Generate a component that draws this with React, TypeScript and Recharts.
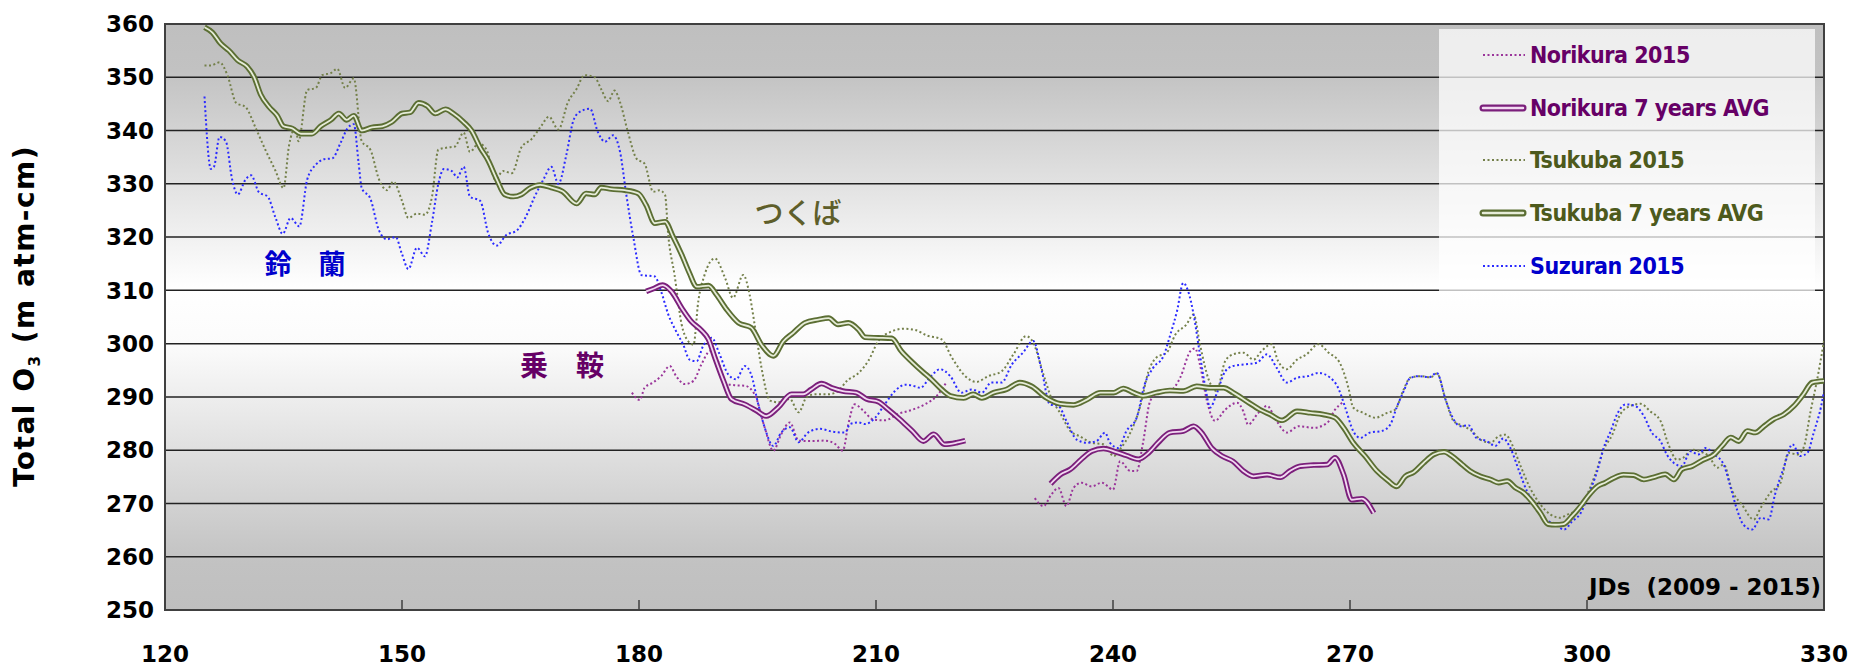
import React from 'react';
import { LineChart, Line, XAxis, YAxis, CartesianGrid, ReferenceArea, Legend } from 'recharts';

type Pt = [number, number | null];

// axis ticks
const xTicks = [120, 150, 180, 210, 240, 270, 300, 330];
const yTicks = [250, 260, 270, 280, 290, 300, 310, 320, 330, 340, 350, 360];

// [JD, total O3]
const norikura2015: Pt[] = [
  [179.1, 290.8], [180.1, 289.4], [180.7, 291.7], [181.8, 292.7], [182.8, 293.9], [183.9, 295.8],
  [184.7, 293.9], [185.8, 292.4], [186.9, 293], [187.9, 296.1], [189, 298.6], [190, 296.7],
  [191.1, 292.4], [192.1, 292.2], [193.4, 292.1], [194.7, 290.3], [195.9, 284.3], [197, 279.9],
  [198, 283], [199.1, 285.2], [200.2, 281.8], [201.8, 281.7], [203.5, 281.8], [204.8, 281.2],
  [205.8, 279.9], [206.5, 284.9], [207.3, 288.6], [208.4, 287.4], [209.6, 285.8], [211.1, 285.6],
  [212.8, 286.8], [214.6, 287.6], [216.2, 288.6], [217.7, 290.2], [218.9, 292.7], [220, null],
  [230.1, 271], [231.2, 269.5], [232.2, 271.7], [233.1, 272.9], [234.1, 269.5], [235, 272.9],
  [236, 273.9], [237.3, 273.2], [238.6, 273.9], [240, 272.6], [240.9, 277.9], [242.2, 276.1],
  [243, 276.1], [243.8, 281.4], [244.7, 289.2], [245.7, 290.8], [247.2, 291.1], [248.5, 293.6],
  [249.8, 298.6], [250.4, 299.1], [251, 296.1], [251.9, 289.2], [252.9, 285.5], [254.2, 287.6],
  [255.7, 288.9], [256.5, 287.3], [257.1, 284.8], [258.4, 287], [259.5, 288.3], [260.7, 285.5],
  [262, 283.3], [263.5, 284.5], [265.4, 284.2], [267.1, 285.1], [268.1, 287.6], [269, 288.9],
];

const norikuraAvg: Pt[] = [
  [180.9, 309.8], [181.8, 310.3], [183, 311], [184.1, 309.8], [185.4, 306.7], [186.6, 304.2],
  [187.9, 302.5], [188.8, 300.8], [189.6, 297.4], [190.7, 293], [191.7, 289.6], [193.4, 288.6],
  [194.9, 287.4], [196.1, 286.4], [197.6, 288], [199.3, 290.5], [200.8, 290.5], [201.8, 291.4],
  [203.1, 292.5], [204.4, 291.7], [205.8, 291.1], [207.5, 290.8], [208.8, 289.6], [210.3, 289.1],
  [211.5, 287.7], [213, 285.8], [214.6, 283.6], [216, 281.7], [217.3, 283], [218.7, 281.1],
  [220.2, 281.4], [221.3, 281.8], [222, null],
  [232.1, 273.7], [233.3, 275.4], [234.6, 276.4], [236, 278.3], [237.3, 279.8], [238.8, 280.3],
  [240.3, 279.7], [241.7, 279], [243.2, 278.3], [244.5, 279.5], [245.7, 281.4], [247.2, 283.3],
  [248.9, 283.6], [250.2, 284.5], [251.2, 283.3], [252.5, 280.4], [253.8, 278.9], [255.2, 277.9],
  [256.5, 276.1], [257.8, 275.1], [259.5, 275.4], [261.2, 274.9], [262.4, 276.1], [263.7, 277],
  [265.4, 277.2], [267.1, 277.3], [268.1, 278.6], [269.2, 275.4], [270.2, 270.7], [271.5, 270.9],
  [273, 268.2],
];

const tsukuba2015: Pt[] = [
  [125, 352.2], [125.8, 352.2], [126.9, 352.8], [127.9, 350.4], [129, 345.2], [130.2, 344.4],
  [131.5, 340.4], [132.7, 336.4], [134, 332.4], [135, 329.2], [135.7, 337.2], [136.5, 340.4],
  [136.9, 338], [138, 347.6], [139.1, 348], [139.9, 350.4], [141, 350.8], [141.8, 351.6],
  [142.8, 348], [143.9, 349.8], [144.9, 338], [146, 336.4], [147.1, 330.8], [148.1, 328.8],
  [148.9, 330.4], [150, 326.8], [150.8, 323.6], [151.9, 324.4], [152.9, 324.2], [153.8, 327.6],
  [154.6, 336.4], [155.7, 336.8], [156.7, 337], [157.8, 339.6], [158.6, 336], [159.7, 337.6],
  [160.7, 336.4], [161.8, 330.8], [162.8, 332.4], [163.9, 332], [165.1, 336.8], [166.4, 338.4],
  [167.6, 340.8], [168.6, 342.6], [169.8, 340.2], [171, 345.3], [172.1, 347.8], [173.1, 350.4],
  [174.4, 350], [175.2, 347.8], [176.1, 345.5], [176.9, 347.5], [177.6, 345.3], [178.6, 339.7],
  [179.7, 334.7], [180.7, 333.8], [181.8, 328.5], [182.6, 328.8], [183.3, 327.9], [183.7, 320.4],
  [184.5, 312.9], [185.4, 303.6], [186.2, 300.5], [186.9, 299.8], [187.5, 307.9], [188.3, 312.9],
  [189.6, 316], [190.9, 312.3], [191.9, 308.6], [193.2, 312.9], [194, 309.2], [194.7, 303],
  [195.5, 295.5], [196.6, 289.3], [197.6, 289], [199.1, 289.6], [200.2, 287.1], [201.2, 289.9],
  [202.3, 290.5], [204, 290.5], [205.2, 291.1], [206.3, 293], [207.8, 294.5], [209, 296.7],
  [210.3, 300.5], [212, 302.3], [213.5, 302.8], [214.9, 302.6], [216.5, 301.5], [218.3, 300.8],
  [219.6, 297.4], [221.3, 293.9], [222.7, 292.8], [224.2, 293.9], [225.9, 294.8], [227.4, 298],
  [229, 301.4], [229.9, 300.2], [231.2, 294.2], [232.2, 289.8], [233.3, 287], [234.6, 283.6],
  [235.8, 282.6], [237.3, 281.4], [238.8, 281.1], [240.1, 278.9], [240.9, 280.2], [242.2, 283.3],
  [243.4, 288], [244.5, 294.8], [245.5, 297.4], [246.8, 298.3], [247.9, 301.7], [249.3, 303.6],
  [250.2, 305.5], [251, 299.9], [252.1, 293.3], [253.1, 291.1], [254.2, 296.7], [255.2, 298],
  [256.5, 298.3], [257.8, 297], [258.8, 298.6], [260.1, 299.9], [260.9, 296.7], [262, 295.2],
  [263.3, 297], [264.5, 298], [266, 299.9], [267.3, 298.3], [268.7, 296.4], [269.8, 291.7],
  [270.4, 288], [271.7, 287], [273.2, 286.1], [274.7, 287], [275.7, 287.6], [276.8, 291.4],
  [277.6, 293.6], [278.9, 293.9], [280.2, 293.7], [281, 294.4], [282.1, 289.5], [283.1, 285.5],
  [284.4, 284.5], [285.4, 283.6], [286.5, 282], [287.8, 281.4], [288.8, 282.6], [289.7, 282.9],
  [290.5, 281.1], [291.6, 277], [292.8, 272.9], [294.1, 269.8], [295.4, 267.9], [296.6, 267.3],
  [297.5, 267.9], [298.7, 268.8], [299.8, 271], [301.1, 275.7], [302.1, 280.1], [303.2, 282.9],
  [304.2, 286.7], [305.5, 288.3], [306.8, 288.7], [308, 287.3], [309.3, 285.5], [310.3, 281.1],
  [311.4, 278.2], [312.2, 278.6], [313.3, 280.1], [314.4, 279.7], [315.4, 278.9], [316.5, 276.7],
  [317.3, 277.3], [318.4, 272.3], [319.6, 269.8], [321.1, 267], [322, 269.2], [323.2, 272],
  [324.5, 273.9], [325.5, 279.5], [326.6, 279.2], [327.4, 280.4], [328.3, 287.3], [329.1, 293],
  [330, 300.5],
];

const tsukubaAvg: Pt[] = [
  [125, 359.4], [126, 358.4], [127, 356.4], [128.1, 355], [129.2, 353.2], [130.4, 352],
  [131.3, 350], [132.1, 346.8], [133.2, 344.4], [134.2, 342.8], [135, 340.8], [136.1, 340.4],
  [137.2, 339.4], [138.6, 339.4], [139.7, 340.8], [141, 342], [142, 343.2], [143, 342],
  [143.9, 342.8], [144.9, 340], [146.2, 340.6], [147.5, 340.8], [148.7, 341.6], [150, 343.2],
  [151, 343.4], [152.1, 345.2], [153.2, 344.6], [154.2, 343.2], [155.5, 344], [156.5, 343.2],
  [157.8, 341.6], [158.8, 340], [159.9, 336.8], [160.9, 334.4], [162, 330.8], [163, 328],
  [164.1, 327.6], [165.1, 328], [166.2, 329.2], [167.5, 329.8], [168.9, 329.3], [170.3, 328.6],
  [172.1, 326.3], [173.3, 328.2], [174.4, 328], [175.2, 329.3], [176.5, 329], [178.2, 328.8],
  [179.9, 328.2], [180.9, 326], [182, 322.6], [183.3, 322.9], [184.3, 320.1], [185.4, 316.7],
  [186.4, 313.2], [187.3, 310.7], [188.8, 310.9], [189.8, 309.2], [191.1, 306.4], [192.6, 303.9],
  [194.2, 303], [195.5, 299.8], [197, 297.7], [198.3, 300.5], [199.5, 302], [201, 303.9],
  [202.7, 304.5], [204, 304.8], [205.2, 303.6], [206.5, 303.9], [207.8, 302.6], [208.6, 301.2],
  [210.3, 301.1], [212, 301], [213.2, 298.6], [214.6, 296.5], [216, 294.6], [216.8, 293.6],
  [218.1, 291.7], [219.4, 290.2], [221.1, 289.8], [222.3, 290.5], [223.4, 289.8], [224.9, 290.8],
  [226.5, 291.4], [228.2, 292.7], [229.7, 292], [231.6, 289.8], [233.3, 288.7], [235, 288.5],
  [236.7, 289.5], [238.4, 290.8], [240.1, 290.8], [241.3, 291.6], [242.6, 290.8], [243.8, 290.2],
  [245.5, 290.8], [247.2, 291.2], [248.9, 291.1], [250.6, 292], [252.3, 291.7], [254, 291.7],
  [255.2, 290.8], [256.9, 289.2], [258.6, 287.6], [259.9, 286.7], [261.4, 285.6], [263.3, 287.3],
  [265, 287], [266.6, 286.7], [268.1, 286.1], [269.2, 284.2], [270.4, 281.4], [271.9, 278.9],
  [273.4, 276.1], [274.8, 274.3], [275.9, 273.2], [277, 275.1], [278.1, 275.9], [279.3, 277.6],
  [280.6, 279.2], [281.9, 279.7], [282.9, 278.9], [284.2, 277.3], [285.2, 276.1], [286.5, 275.1],
  [287.8, 274.5], [288.8, 273.9], [289.9, 274.2], [290.9, 273], [292, 272], [293, 270.4],
  [294.1, 268.2], [295.1, 266.1], [296, 266], [297, 266.1], [298.1, 267.6], [299.2, 269.5],
  [300.2, 271.5], [301.3, 273.2], [302.3, 273.9], [303.4, 274.8], [304.6, 275.4], [305.9, 275.3],
  [307.2, 274.5], [308.4, 274.9], [309.9, 275.5], [311, 274.5], [312, 276.4], [313.3, 277],
  [314.6, 278.1], [316.1, 279.2], [317.1, 280.8], [318.2, 282.4], [319.2, 281.7], [320.3, 283.6],
  [321.3, 283.3], [322.4, 284.5], [323.6, 285.8], [324.9, 286.7], [326.2, 288.3], [327.4, 290.5],
  [328.5, 292.7], [330, 293],
];

const suzuran2015: Pt[] = [
  [125, 346.4], [125.8, 332.8], [126.2, 333.2], [126.9, 338.8], [127.7, 338], [128.5, 330.8],
  [129.2, 328], [130.2, 330.8], [130.9, 331.6], [131.9, 328.4], [133, 327.6], [134, 323.6],
  [134.9, 320.6], [135.9, 323.6], [137, 322], [138, 330.8], [139.1, 333.6], [140.1, 334.6],
  [141.2, 334.8], [142.2, 337.6], [143.1, 340.4], [143.9, 341.2], [144.5, 334], [144.9, 329.2],
  [146, 327.2], [147.1, 321.2], [148.1, 319.6], [149.2, 320], [150, 316.8], [150.8, 314],
  [151.9, 318], [152.9, 316.4], [153.8, 322.8], [154.6, 330], [155.3, 332.8], [156.3, 332.4],
  [157, 331.2], [157.8, 333.2], [158.6, 327.6], [159.9, 326.8], [160.9, 320.8], [162, 318.4],
  [163.2, 320.4], [164.5, 321.2], [165.6, 323.6], [166.8, 327.6], [167.9, 330.8], [168.9, 333.2],
  [169.8, 330], [170.8, 335.4], [171.7, 341.9], [172.5, 343.5], [173.8, 344.1], [174.8, 339.7],
  [175.7, 337.9], [176.7, 339.1], [177.6, 336], [178.4, 327.9], [179.3, 319.8], [180.3, 312.9],
  [182, 312.6], [182.8, 309.8], [183.7, 305.5], [184.7, 302.3], [185.6, 299.8], [186.4, 297],
  [187.3, 296.7], [188.1, 299.5], [189.2, 301.1], [190.2, 298], [191.3, 294.2], [192.3, 293.3],
  [193.4, 295.8], [194.2, 294.2], [195.1, 288.6], [195.9, 284.3], [197, 280.8], [198, 283.3],
  [199.1, 284.3], [200.2, 281.5], [201.4, 283.3], [202.9, 284], [204.4, 283.5], [206.1, 283.3],
  [206.7, 284.9], [207.8, 285.2], [208.6, 284.9], [209.9, 286.1], [211.1, 288.6], [212.4, 291.1],
  [213.7, 292.3], [214.9, 292], [215.6, 291.7], [216.8, 293.6], [218.1, 295.2], [219.4, 293.9],
  [220.8, 290.8], [222.1, 291.4], [223.4, 290.8], [224.6, 292.7], [225.9, 292.7], [227.2, 296.1],
  [228.6, 298.3], [229.9, 300.5], [231, 294.8], [232, 288.6], [233.1, 288.3], [234.1, 285.5],
  [235.4, 282], [236.7, 281.4], [237.9, 281.7], [239, 283.3], [239.6, 281.4], [240.7, 280.4],
  [241.7, 283.6], [243, 286.1], [244, 292.3], [245.1, 295.5], [246.4, 297.7], [247.2, 301.4],
  [248.1, 306.1], [248.9, 311.4], [249.5, 309.9], [250.2, 305.5], [251, 298], [251.7, 291.7],
  [252.3, 288], [253.1, 290.5], [254.2, 294.8], [255.2, 295.8], [256.7, 296.1], [258.2, 296.4],
  [259.5, 298], [260.7, 295.5], [262, 292.7], [263.3, 293.6], [264.7, 293.9], [266, 294.5],
  [267.5, 293.6], [268.5, 291.7], [269.4, 288], [270.4, 283.6], [271.3, 282.3], [272.5, 283.3],
  [274, 283.6], [275.1, 284.8], [275.9, 288], [276.8, 291.1], [277.6, 293.5], [278.7, 293.9],
  [280, 293.7], [281, 294.5], [282.1, 289.5], [282.9, 286.4], [284, 284.5], [285, 284.7],
  [286, 282.3], [287.3, 281.7], [288.4, 280.8], [289.4, 282.2], [290.3, 280.4], [291.4, 276.1],
  [292.4, 272.3], [293.5, 269.8], [294.5, 267], [295.8, 266.3], [297.1, 265.1], [298.1, 266.6],
  [299.2, 268.2], [300.2, 271.7], [301.3, 276.1], [302.1, 280.4], [303, 283.6], [303.8, 286.7],
  [304.9, 288.6], [306.1, 288.3], [307.2, 286.4], [308.2, 283.3], [309.3, 281.7], [310.1, 279.2],
  [311, 277.6], [312, 277], [313.1, 279.8], [314.1, 279.2], [315, 280.4], [316.1, 279.2],
  [317.3, 277.3], [318.2, 272.9], [319, 268.8], [319.8, 266], [320.9, 265.1], [322, 267.3],
  [323, 267], [323.8, 271.7], [324.9, 276.7], [326, 281.1], [327, 278.9], [327.9, 279.5],
  [328.7, 283.3], [329.6, 288], [330, 291],
];

const toRows = (pts: Pt[]) => pts.map(([day, value]) => ({ day, value }));

const legendItems = [
  { label: 'Norikura 2015', avg: false, color: '#9a359a', inner: '', text: '#660066' },
  { label: 'Norikura 7 years AVG', avg: true, color: '#7b1f7b', inner: '#f2d9f2', text: '#660066' },
  { label: 'Tsukuba 2015', avg: false, color: '#74804a', inner: '', text: '#4d5a1c' },
  { label: 'Tsukuba 7 years AVG', avg: true, color: '#5b6e33', inner: '#e6ecd8', text: '#4d5a1c' },
  { label: 'Suzuran 2015', avg: false, color: '#2b2bff', inner: '', text: '#0000cc' },
];

const tickFont = '"DejaVu Sans", Verdana, sans-serif';
const cjkFont = '"Noto Sans CJK JP", sans-serif';

const XTick = (props: any) => {
  const { x, y, payload } = props;
  return (
    <g>
      <line x1={x} y1={y} x2={x} y2={y - 10} stroke="#404040" strokeWidth={1.5} />
      <text
        x={x}
        y={y + 44}
        textAnchor="middle"
        dominantBaseline="central"
        fill="#000"
        fontFamily={tickFont}
        fontWeight="bold"
        fontSize={23}
      >
        {payload.value}
      </text>
    </g>
  );
};

const renderLegend = () => (
  <div
    style={{
      background: 'rgba(255,255,255,0.72)',
      width: 376,
      height: 263,
      boxSizing: 'border-box',
    }}
  >
    {legendItems.map((item) => (
      <div key={item.label} style={{ height: 52.6, display: 'flex', alignItems: 'center' }}>
        <svg width={48} height={14} style={{ marginLeft: 40, marginRight: 3 }}>
          {item.avg ? (
            <>
              <line x1={4} y1={7} x2={44} y2={7} stroke={item.color} strokeWidth={7} strokeLinecap="round" />
              <line x1={4} y1={7} x2={44} y2={7} stroke={item.inner} strokeWidth={2.5} strokeLinecap="round" />
            </>
          ) : (
            <line x1={4} y1={7} x2={46} y2={7} stroke={item.color} strokeWidth={2} strokeDasharray="2 2.5" />
          )}
        </svg>
        <span
          style={{
            color: item.text,
            fontFamily: '"Liberation Sans Narrow", "DejaVu Sans Condensed", sans-serif',
            fontWeight: 'bold',
            fontSize: 23,
            letterSpacing: -0.5,
            whiteSpace: 'nowrap',
          }}
        >
          {item.label}
        </span>
      </div>
    ))}
  </div>
);

export default function App() {
  return (
    <div style={{ position: 'absolute', left: 0, top: 0, width: 1853, height: 668, background: '#fff' }}>
      <LineChart width={1853} height={668} margin={{ top: 24, right: 29, bottom: 8, left: 0 }}>
        <defs>
          <linearGradient id="plotBg" x1="0" y1="0" x2="0" y2="1">
            <stop offset="0%" stopColor="#bfbfbf" />
            <stop offset="8%" stopColor="#c2c2c2" />
            <stop offset="45%" stopColor="#ffffff" />
            <stop offset="55%" stopColor="#fbfbfb" />
            <stop offset="92%" stopColor="#c2c2c2" />
            <stop offset="100%" stopColor="#bfbfbf" />
          </linearGradient>
        </defs>
        <CartesianGrid vertical={false} stroke="#222" strokeWidth={1.5} fill="url(#plotBg)" fillOpacity={1} />
        <XAxis
          dataKey="day"
          type="number"
          domain={[120, 330]}
          ticks={xTicks}
          allowDataOverflow
          height={50}
          axisLine={false}
          tickLine={false}
          tickSize={0}
          tickMargin={0}
          tick={<XTick />}
          interval={0}
        />
        <YAxis
          type="number"
          domain={[250, 360]}
          ticks={yTicks}
          allowDataOverflow
          width={165}
          axisLine={false}
          tickLine={false}
          tickSize={0}
          tickMargin={11}
          interval={0}
          tick={{ fill: '#000', fontSize: 23, fontWeight: 'bold', fontFamily: tickFont }}
        />
        <ReferenceArea
          x1={120}
          x2={330}
          y1={250}
          y2={360}
          fill="none"
          stroke="#404040"
          strokeWidth={2}
          ifOverflow="visible"
        />
        <Line data={toRows(norikura2015)} dataKey="value" type="monotone" stroke="#9a359a" strokeWidth={2}
          strokeDasharray="2 2.5" dot={false} activeDot={false} isAnimationActive={false} />
        <Line data={toRows(tsukuba2015)} dataKey="value" type="monotone" stroke="#74804a" strokeWidth={2}
          strokeDasharray="2 2.5" dot={false} activeDot={false} isAnimationActive={false} />
        <Line data={toRows(suzuran2015)} dataKey="value" type="monotone" stroke="#2b2bff" strokeWidth={2}
          strokeDasharray="2 2.5" dot={false} activeDot={false} isAnimationActive={false} />
        <Line data={toRows(norikuraAvg)} dataKey="value" type="monotone" stroke="#7b1f7b" strokeWidth={5.5}
          dot={false} activeDot={false} isAnimationActive={false} />
        <Line data={toRows(norikuraAvg)} dataKey="value" type="monotone" stroke="#f2d9f2" strokeWidth={1.8}
          dot={false} activeDot={false} isAnimationActive={false} />
        <Line data={toRows(tsukubaAvg)} dataKey="value" type="monotone" stroke="#5b6e33" strokeWidth={5.5}
          dot={false} activeDot={false} isAnimationActive={false} />
        <Line data={toRows(tsukubaAvg)} dataKey="value" type="monotone" stroke="#e6ecd8" strokeWidth={1.8}
          dot={false} activeDot={false} isAnimationActive={false} />
        <Legend
          layout="vertical"
          align="center"
          verticalAlign="middle"
          content={renderLegend}
          wrapperStyle={{ left: 1439, top: 29, width: 376, height: 263 }}
        />
      </LineChart>

      {/* axis title and annotations */}
      <div
        style={{
          position: 'absolute',
          left: 26,
          top: 316,
          transform: 'translate(-50%, -50%) rotate(-90deg)',
          whiteSpace: 'nowrap',
          fontFamily: tickFont,
          fontWeight: 'bold',
          fontSize: 28,
          letterSpacing: 1.5,
          color: '#000',
        }}
      >
        Total O<sub style={{ fontSize: 15 }}>3</sub> (m atm-cm)
      </div>
      <div style={{ position: 'absolute', left: 305, top: 262, transform: 'translate(-50%, -50%)',
        fontFamily: cjkFont, fontWeight: 'bold', fontSize: 27, color: '#0000cc', whiteSpace: 'nowrap' }}>
        鈴　蘭
      </div>
      <div style={{ position: 'absolute', left: 798, top: 211, transform: 'translate(-50%, -50%)',
        fontFamily: cjkFont, fontWeight: 500, fontSize: 29, color: '#5e5e2a', whiteSpace: 'nowrap' }}>
        つくば
      </div>
      <div style={{ position: 'absolute', left: 562, top: 364, transform: 'translate(-50%, -50%)',
        fontFamily: cjkFont, fontWeight: 'bold', fontSize: 28, color: '#660066', whiteSpace: 'nowrap' }}>
        乗　鞍
      </div>
      <div style={{ position: 'absolute', right: 32, top: 587, transform: 'translateY(-50%)',
        fontFamily: tickFont, fontWeight: 'bold', fontSize: 23, color: '#000', whiteSpace: 'pre' }}>
        JDs  (2009 - 2015)
      </div>
    </div>
  );
}
